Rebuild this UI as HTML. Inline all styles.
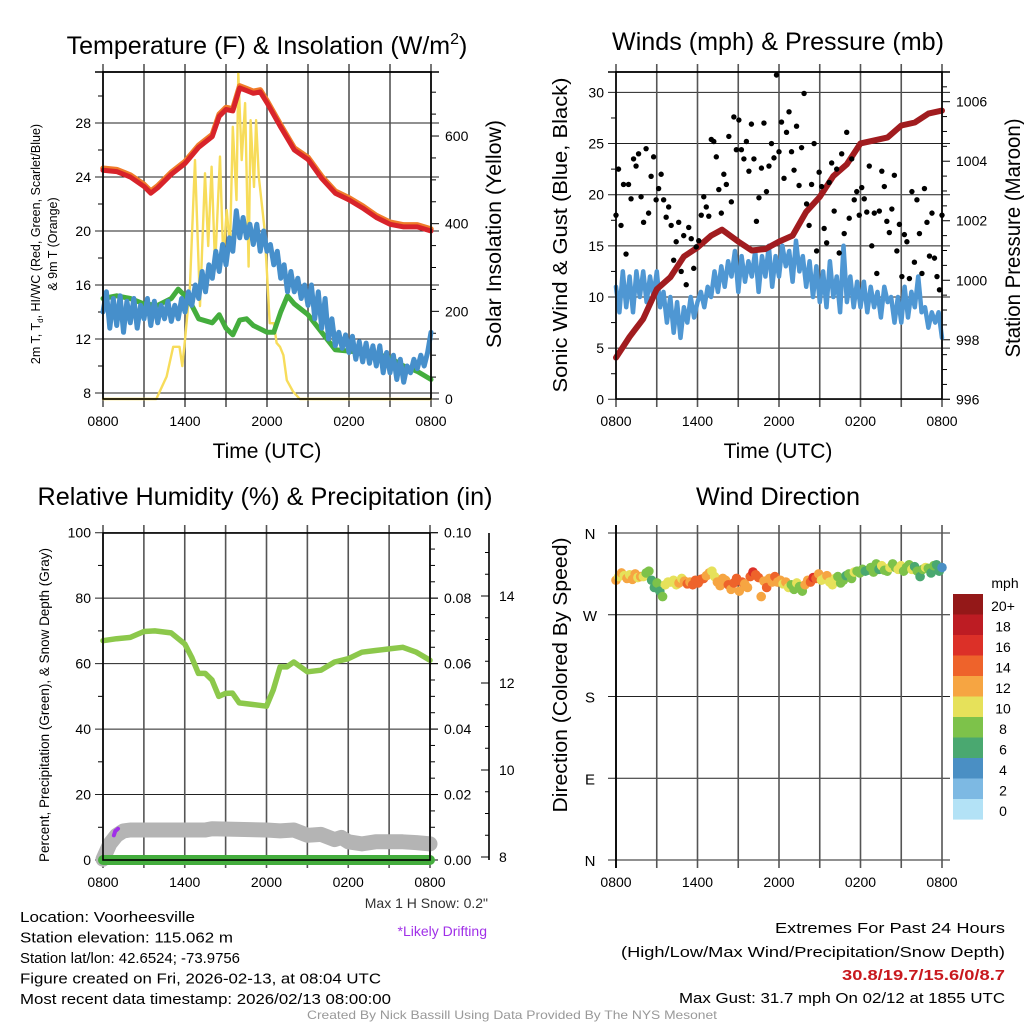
<!DOCTYPE html>
<html><head><meta charset="utf-8"><style>
html,body{margin:0;padding:0;background:#fff;}
svg{display:block;font-family:"Liberation Sans",sans-serif;}
</style></head><body>
<svg id="c" width="1024" height="1024" viewBox="0 0 1024 1024" xmlns="http://www.w3.org/2000/svg"></svg>
<script>
// ---------- DATA ----------
const xTickLabels = ["0800","1400","2000","0200","0800"];
const quarterHours = Array.from({length:97},(_,i)=>i*0.25);
// Panel 1
const tempT = [0,1,2,3,3.5,4,5,6,7,8,8.5,9,9.5,10,10.5,11,11.5,12,13,14,15,16,17,18,19,20,21,22,23,24];
const tempV = [24.5,24.4,24.0,23.3,22.8,23.2,24.2,25.0,26.2,27.0,28.5,29.0,28.9,30.6,30.4,30.2,30.3,29.5,27.7,26.0,25.3,23.9,22.8,22.3,21.7,21.0,20.5,20.3,20.3,20.0];
const blueTV = [14,15.5,12.8,15,13,15.2,12.5,14.8,13.2,15,12.8,14.5,13.5,
 15,13,14.8,13.2,14.5,13.5,14.8,13.3,14.5,13.5,15,14,
 15.5,14.5,16,15,17,15.5,17.5,16.5,18.5,17,19,17.5,
 19.5,18.5,21.5,19.5,21,19.5,20.5,19,20.5,18.5,20,18.5,
 19,17.5,18.5,16.5,17.5,15.5,17,15.5,16.5,15,16,14.5,
 16,13.5,15.5,12.8,15,12,13.5,11.5,12.5,11.3,12.3,11,
 12.2,10.5,11.8,10.3,11.7,10.2,11.5,10,11.5,9.5,11,9.5,
 10.8,9,10.5,8.8,10,9.5,10.5,9.8,10.8,10,11,12.5];
const dewT = [0,1,2,3,4,5,5.5,6,6.5,7,8,8.5,9,9.5,10,10.5,11,12,12.5,13,13.5,14,15,16,17,18,19,20,21,22,23,24];
const dewV = [15,15.2,15,14.6,14.5,15,15.7,15.2,14.5,13.5,13.2,13.8,12.8,12.3,13.4,13.5,13,12.5,12.5,14,15.2,14.6,13.8,12.5,11.2,11.1,11.0,10.9,10.6,10.0,9.6,9.0];
const solT = [0,3.9,4.65,5.14,5.6,5.8,5.99,6.36,6.73,7.1,7.46,7.7,7.95,8.2,8.56,8.8,9.05,9.29,9.5,9.77,9.9,10.15,10.4,10.65,10.8,11.05,11.2,11.4,11.8,12.0,12.2,12.5,12.7,12.95,13.2,13.45,13.9,14.4,24];
const solV = [0,0,51,119,119,75,133,256,545,212,515,349,530,303,553,317,431,346,621,454,744,545,675,302,636,484,636,507,393,287,173,173,128,119,100,43,17,0,0];
// Panel 2
const windV = [11,8.5,12.5,9,12,8.5,12.5,10,12.5,9.5,12,10,12.5,
 9,10.5,7.5,10,6.5,9.5,6,9,7.5,10,8,9.5,
 10.5,9,11,10,12.5,10.5,13,11,13.5,12,14.5,10.5,
 14,11.5,13.5,12,14.5,10.5,14,12,15,11,14,12,
 15,13,14.5,11.5,15.5,12.5,14,11,13.5,10,13,9.5,
 12.5,9,13.5,10,12,8.5,15,9.5,12,9,11.5,9,
 11.5,8.5,11,9,10.5,8,11,9.5,10,7.5,10,7.5,
 11,8,10.5,9,12,8.5,9,7,8.5,7.5,8.5,6];
const presT = [0,1,2,3,4,5,6,7,7.8,9,10,11,12,13,14,15,16,17,18,19,20,21,22,23,24];
const presV = [997.4,998.1,998.7,999.7,1000.1,1000.8,1001.1,1001.5,1001.7,1001.3,1001.0,1001.05,1001.3,1001.5,1002.3,1002.8,1003.5,1003.9,1004.6,1004.7,1004.8,1005.2,1005.3,1005.6,1005.7];
const gustV = [18,22.5,17,21,14.2,21,19.6,23.5,22.8,24,19.8,17.3,24.5,18.2,21.8,
 23.7,19.5,20.6,22,19.5,17.8,18.8,17,13.6,
 15.4,17.3,12.5,16,11.2,16.8,15.7,12.8,14.9,15.5,
 18,19.8,18.8,17.9,25.4, 25.2,23.7,20.5,18.2,22, 21,25.7,19.3,27.6,24.4,
 27.3,24.4,23.5,25.2,22.3, 26.9,23.5,17.4,19.7,22.6, 27,20.3,22.8,25,23.6,31.7,
 24.2,27.1,21.6,26.1,28.1, 24.2,22.4,26.7,20.9,24.6, 29.9,19.1,17,21,25,
 14.5,22.2,20.8,16.7,15.3, 21.2,23.1,18.4,22.5,14.3, 24,16.2,26.1,17.7,23.5,
 19.5,20.3,18,20.7,19.6, 18.3,22.8,15,18.2,12.3, 18.4,22.3,20.8,17.4,16.3,
 18.6,21.9,14.5,17.1,12, 16.1,15.4,11.8,20.3,13.4, 19.5,16.2,12.3,20.6,17.3,
 14,18.2,13.8,12,10.7,18];
// Panel 3
const rhT = [0,1,2,3,3.8,5,6,6.5,7,7.5,8,8.5,9,9.5,10,11,12,12.5,13,13.5,14,15,16,17,18,19,20,21,22,23,24];
const rhV = [67,67.6,68,69.8,70,69.4,66,62,57,57,55,50,50.9,51,48,47.5,47,52,59,59,60.5,57.5,58,60.5,61.5,63.5,64,64.5,65,63.5,61];
const snowT = [0,0.5,1,1.5,2,7.5,8,12,13,14,15,16,17,17.5,18,19,20,21,22,23,24];
const snowV = [7.95,8.3,8.5,8.6,8.62,8.62,8.65,8.62,8.6,8.62,8.5,8.52,8.4,8.45,8.35,8.3,8.35,8.35,8.35,8.33,8.3];
const precipT = [0,24];
const precipV = [0,0];
const driftT = [0.8,0.9,1.0,1.1];
const driftV = [8.5,8.6,8.62,8.65];
// Panel 4
const dirV = [308,312,316,313,310,314,309,315,311,312, 312,316,318,308,300,305,296,290,303,306,
 306,308,303,305,310,307,304,306,303,308, 305,309,310,313,316,318,312,306,302,310,
 308,303,298,305,310,296,306,304,300,312, 317,314,311,290,307,300,310,306,312,306,
 308,304,306,300,303,298,305,301,296,303, 308,306,311,310,315,308,310,313,306,303,
 310,312,305,308,313,315,310,317,318,316, 320,318,319,322,317,326,320,324,319,318,
 322,326,322,320,324,318,322,325,320,323, 318,312,320,322,321,316,324,325,318,322];
const spdV = [12,11,12,10,12,11,13,12,11,12, 10,9,8,7,6,8,7,8,10,10,
 10,10,11,12,10,13,14,13,14,15, 14,15,14,13,12,11,10,12,13,12,
 13,14,12,14,15,13,14,12,13,15, 16,14,15,13,12,14,13,12,14,13,
 12,11,12,10,9,8,10,8,9,12, 12,15,17,14,12,10,11,12,10,11,
 10,9,8,8,7,8,9,10,8,9, 8,7,6,8,9,8,7,10,9,8,
 10,9,8,10,10,9,8,9,10,7, 8,6,9,10,8,7,8,6,7,5];
const cbLabels = ["20+","18","16","14","12","10","8","6","4","2","0"];
const cbColors = ["#941818","#bd1c23","#dc3028","#ee632b","#f6a542","#e6e15a","#7dc24a","#4aa870","#4a8fc4","#7db9e3","#b3e2f6"];

// ---------- DRAW ----------
const NS="http://www.w3.org/2000/svg";
const svg=document.getElementById('c');
function el(tag,name,attrs,parent){
  const e=document.createElementNS(NS,tag);
  for(const k in attrs) e.setAttribute(k,attrs[k]);
  
  
  (parent||svg).appendChild(e);
  return e;
}
function ln(name,x1,y1,x2,y2,st,w){return el('line',name,{x1:x1,y1:y1,x2:x2,y2:y2,stroke:st,'stroke-width':w});}
function tx(name,x,y,s,size,anchor,extra){const t=el('text',name,Object.assign({x:x,y:y,'font-size':size,'text-anchor':anchor||'middle',fill:'#000'},extra||{}));t.textContent=s;return t;}
function poly(name,xs,ys,fx,fy,st,w){
  const pts=xs.map((v,i)=>fx(v).toFixed(1)+','+fy(ys[i]).toFixed(1)).join(' ');
  return el('polyline',name,{points:pts,fill:'none',stroke:st,'stroke-width':w,'stroke-linejoin':'round','stroke-linecap':'round'});
}
function xAxis(pfx,x0,x1,y0,y1,labels){
  const fx=h=>x0+(x1-x0)*h/24;
  for(let h=0;h<=24;h+=3){ln(pfx+'-vgrid',fx(h),y0-8,fx(h),y1+8,'#555',1.6);}
  if(labels) xTickLabels.forEach((s,i)=>tx(pfx+'-x-tick-label',fx(i*6),y1+27,s,14));
  return fx;
}
function rotText(name,x,y,s,size,len){const e={transform:'rotate(-90 '+x+' '+y+')'};if(len){e.textLength=len;e.lengthAdjust='spacingAndGlyphs';}return tx(name,x,y,s,size,'middle',e);}
function title(name,x,y,s,len){return tx(name,x,y,s,25,'middle',{textLength:len,lengthAdjust:'spacingAndGlyphs'});}

// ===== Panel 1 =====
{
 const x0=103,x1=431,y0=72,y1=399;
 const fy=v=>393-(v-8)*13.5, fs=v=>399-v*0.4383;
 const tt=tx('temp-title',267,54,'',25);tt.innerHTML='Temperature (F) &amp; Insolation (W/m<tspan font-size="16" dy="-10">2</tspan><tspan dy="10">)</tspan>';
 for(let v=8;v<=28;v+=4){ln('temp-hgrid',x0-8,fy(v),x1+8,fy(v),'#222',1);tx('temp-y-tick-label',x0-12,fy(v)+5,String(v),14,'end');}
 for(let v=10;v<=30;v+=4){ln('temp-minor-tick',x0-5,fy(v),x0,fy(v),'#000',1);}
 for(let v=0;v<=700;v+=50){const mj=v%200==0;ln('sol-tick',x1,fs(v),x1+(mj?8:5),fs(v),'#000',1);if(mj)tx('sol-y-tick-label',x1+14,fs(v)+5,String(v),14,'start');}
 const fx=xAxis('temp',x0,x1,y0,y1,true);
 ln('temp-top-grid',x0-8,y0,x1+8,y0,'#000',1.5);
 poly('solar-line',solT,solV,fx,fs,'#f7dc5a',2.4);
 poly('dewpoint-line',dewT,dewV,fx,fy,'#44ad3d',5);
 poly('windchill-line',quarterHours,blueTV,fx,fy,'#468fcb',5);
 poly('temp-9m-line',tempT,tempV.map(v=>v+0.15),fx,fy,'#f07c2a',5.5);
 poly('temp-2m-line',tempT,tempV,fx,fy,'#d8232a',5);
 el('rect','temp-frame',{x:x0,y:y0,width:x1-x0,height:y1-y0,fill:'none',stroke:'#000','stroke-width':1.6});
 tx('temp-x-title',267,458,'Time (UTC)',21);
 const t1=rotText('temp-y-title',40,244,'',12.5);t1.innerHTML='2m T, T<tspan font-size="8" dy="3">d</tspan><tspan dy="-3">, HI/WC (Red, Green, Scarlet/Blue)</tspan>';
 rotText('temp-y-title-2',57,244,'& 9m T (Orange)',12.5);
 rotText('solar-y-title',501,234,'Solar Insolation (Yellow)',21,228);
}
// ===== Panel 2 =====
{
 const x0=616,x1=942,y0=72,y1=399;
 const fy=v=>399.3-v*10.23, fp=v=>399.3-(v-996)*29.76;
 title('wind-title',778,50,'Winds (mph) & Pressure (mb)',332);
 for(let v=0;v<=30;v+=5){ln('wind-hgrid',x0-8,fy(v),x1+8,fy(v),'#222',1);tx('wind-y-tick-label',x0-12,fy(v)+5,String(v),14,'end');}
 for(let v=2.5;v<=32;v+=5){ln('wind-minor-tick',x0-5,fy(v),x0,fy(v),'#000',1);}
 for(let v=996;v<=1007.01;v+=0.5){const mj=Math.abs(v%2)<0.01;ln('pres-tick',x1,fp(v),x1+(mj?8:5),fp(v),'#000',1);if(mj)tx('pres-y-tick-label',x1+14,fp(v)+5,String(v),14,'start');}
 const fx=xAxis('wind',x0,x1,y0,y1,true);
 ln('wind-top-grid',x0-8,y0,x1+8,y0,'#000',1.5);
 poly('sonic-wind-line',quarterHours,windV,fx,fy,'#4f97d3',4.5);
 poly('pressure-line',presT,presV,fx,fp,'#a11c1f',6);
 gustV.forEach((v,i)=>{el('circle','gust-point',{cx:fx(i*24/(gustV.length-1)),cy:fy(v),r:2.7,fill:'#000'});});
 el('rect','wind-frame',{x:x0,y:y0,width:x1-x0,height:y1-y0,fill:'none',stroke:'#000','stroke-width':1.6});
 tx('wind-x-title',778,458,'Time (UTC)',21);
 rotText('wind-y-title',567,235,'Sonic Wind & Gust (Blue, Black)',20,315);
 rotText('pressure-y-title',1020,238,'Station Pressure (Maroon)',21,239);
}
// ===== Panel 3 =====
{
 const x0=103,x1=430,y0=533,y1=860;
 const fy=v=>860-v*3.273, fsn=v=>857-(v-8)*43.5;
 title('rh-title',265,505,'Relative Humidity (%) & Precipitation (in)',455);
 for(let v=0;v<=100;v+=20){ln('rh-hgrid',x0-8,fy(v),x1+8,fy(v),'#222',1);tx('rh-y-tick-label',x0-12,fy(v)+5,String(v),14,'end');}
 for(let v=10;v<100;v+=20){ln('rh-minor-tick',x0-5,fy(v),x0,fy(v),'#000',1);}
 for(let v=0;v<=100;v+=5){const mj=v%20==0;ln('precip-tick',x1,fy(v),x1+(mj?8:5),fy(v),'#000',1);if(mj)tx('precip-y-tick-label',x1+14,fy(v)+5,(v/1000).toFixed(2),14,'start');}
 ln('snow-axis',489,533,489,860,'#000',1.6);
 for(let v=8;v<=15.5;v+=0.5){if(fsn(v)<533)break;const mj=v%2==0;ln('snow-tick',489,fsn(v),489-(mj?8:4),fsn(v),'#000',1);if(mj)tx('snow-y-tick-label',499,fsn(v)+5,String(v),14,'start');}
 const fx=xAxis('rh',x0,x1,y0,y1,true);
 poly('snow-depth-line',snowT,snowV,fx,fsn,'#b4b4b4',15);
 poly('drifting-marks',driftT,driftV,fx,fsn,'#a030e8',4);
 poly('precip-line',precipT,precipV,fx,fy,'#44ad3d',10);
 poly('rh-line',rhT,rhV,fx,fy,'#8cc84b',5.5);
 el('rect','rh-frame',{x:x0,y:y0,width:x1-x0,height:y1-y0,fill:'none',stroke:'#000','stroke-width':1.6});
 rotText('rh-y-title',49,705,'Percent, Precipitation (Green), & Snow Depth (Gray)',14,314);
 tx('max-snow-label',488,908,'Max 1 H Snow: 0.2"',14,'end',{fill:'#333'});
 tx('drifting-note',487,936,'*Likely Drifting',14,'end',{fill:'#a030e8'});
}
// ===== Panel 4 =====
{
 const x0=616,x1=942,y0=533,y1=860;
 const fy=v=>860-v*0.9083;
 title('dir-title',778,505,'Wind Direction',164);
 const dl=['N','E','S','W','N'];
 for(let i=0;i<5;i++){const y=fy(i*90);ln('dir-hgrid',x0-8,y,x1+8,y,'#222',1);tx('dir-y-tick-label',590,y+6,dl[i],15);}
 const fx=xAxis('dir',x0,x1,y0,y1,true);
 const col=s=>cbColors[10-Math.min(10,Math.floor(s/2))];
 dirV.forEach((d,i)=>{el('circle','dir-point',{cx:fx(i*24/(dirV.length-1)),cy:fy(d),r:4.8,fill:col(spdV[i])});});
 ln('dir-left-axis',x0,y0-8,x0,y1+8,'#000',1.8);
 rotText('dir-y-title',567,675,'Direction (Colored By Speed)',20,275);
 tx('colorbar-title',1005,588,'mph',14);
 cbColors.forEach((c,i)=>{el('rect','colorbar-box',{x:953,y:594+i*20.5,width:30,height:20.6,fill:c});tx('colorbar-label',1003,611+i*20.5,cbLabels[i],14);});
}
// ===== Footer =====
const info=["Location: Voorheesville","Station elevation: 115.062 m","Station lat/lon: 42.6524; -73.9756","Figure created on Fri, 2026-02-13, at 08:04 UTC","Most recent data timestamp: 2026/02/13 08:00:00"];
const infoW=[175,213,220,361,371];
info.forEach((s,i)=>tx('station-info-line',20,922+i*20.5,s,15,'start',{textLength:infoW[i],lengthAdjust:'spacingAndGlyphs'}));
tx('extremes-title',1005,933,'Extremes For Past 24 Hours',15,'end',{textLength:230,lengthAdjust:'spacingAndGlyphs'});
tx('extremes-subtitle',1005,957,'(High/Low/Max Wind/Precipitation/Snow Depth)',15,'end',{textLength:384,lengthAdjust:'spacingAndGlyphs'});
tx('extremes-values',1005,980,'30.8/19.7/15.6/0/8.7',15,'end',{fill:'#c8191e','font-weight':'bold',textLength:163,lengthAdjust:'spacingAndGlyphs'});
tx('max-gust',1005,1003,'Max Gust: 31.7 mph On 02/12 at 1855 UTC',15,'end',{textLength:326,lengthAdjust:'spacingAndGlyphs'});
tx('credit',512,1019,'Created By Nick Bassill Using Data Provided By The NYS Mesonet',12,'middle',{fill:'#999',textLength:410,lengthAdjust:'spacingAndGlyphs'});
</script>
</body></html>
